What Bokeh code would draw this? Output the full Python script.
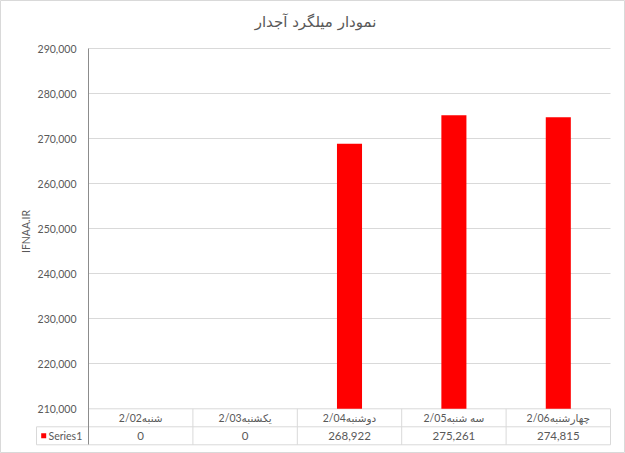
import math
from bokeh.plotting import figure
from bokeh.models import FixedTicker, NumeralTickFormatter, Label, ColumnDataSource
from bokeh.core.properties import value
from bokeh.embed import file_html
from bokeh.resources import INLINE

# ---------------- data ----------------
title_text = "نمودار میلگرد آجدار"
y_axis_title = "IFNAA.IR"
series_name = "Series1"
categories = ["2/02شنبه", "2/03یکشنبه", "2/04دوشنبه", "2/05سه شنبه", "2/06چهارشنبه"]
values = [0, 0, 268922, 275261, 274815]
y_ticks = [210000, 220000, 230000, 240000, 250000, 260000, 270000, 280000, 290000]

AXIS_MIN = y_ticks[0]
AXIS_MAX = y_ticks[-1]

# ---------------- layout helpers (page pixels -> data) ----------------
W, H = 625, 453
PX_PER_CAT = 104.4
PX_PER_Y = 4.5 / 1000.0
AXIS_X_PAGE = 88.0
AXIS_MIN_Y_PAGE = 408.3


def dx(px):
    return (px - AXIS_X_PAGE) / PX_PER_CAT


def dy(py):
    return AXIS_MIN + (AXIS_MIN_Y_PAGE - py) / PX_PER_Y


ROW_H = 4000  # table row height in y units (18 px)
n = len(categories)
table_left = dx(36)
table_bottom = AXIS_MIN - 2 * ROW_H

TEXT_COLOR = "#595959"
GRID_COLOR = "#d9d9d9"
FONT = "Lato, DejaVu Sans"

p = figure(width=W, height=H, title=None,
           x_range=(dx(0), dx(W)), y_range=(dy(H), dy(0)),
           output_backend="svg", toolbar_location=None,
           x_axis_type=None,
           min_border_left=0, min_border_right=0,
           min_border_top=0, min_border_bottom=0)
p.outline_line_color = "#d9d9d9"
p.background_fill_color = "white"
p.border_fill_color = "white"

# y axis drawn at category origin
yax = p.yaxis[0]
yax.fixed_location = 0
yax.ticker = FixedTicker(ticks=y_ticks)
yax.formatter = NumeralTickFormatter(format="0,0")
yax.bounds = (table_bottom, AXIS_MAX)
yax.major_tick_line_color = None
yax.minor_tick_line_color = None
yax.major_tick_out = 0
yax.major_tick_in = 0
yax.minor_tick_out = 0
yax.minor_tick_in = 0
yax.axis_line_color = "#8c8c8c"
yax.major_label_text_font = FONT
yax.major_label_text_font_size = "10.5px"
yax.major_label_text_color = TEXT_COLOR
yax.major_label_standoff = 12

# horizontal gridlines
grid = p.ygrid[0]
grid.ticker = FixedTicker(ticks=y_ticks[1:])
grid.grid_line_color = GRID_COLOR
if "cross_bounds" in grid.properties():
    grid.cross_bounds = (0, n)
else:
    grid.visible = False
    p.segment(x0=[0] * (len(y_ticks) - 1), x1=[n] * (len(y_ticks) - 1),
              y0=y_ticks[1:], y1=y_ticks[1:], line_color=GRID_COLOR, line_width=1)

# data table lines
hx0 = [0, table_left, table_left]
hx1 = [n, n, n]
hy = [AXIS_MIN, AXIS_MIN - ROW_H, table_bottom]
p.segment(x0=hx0, x1=hx1, y0=hy, y1=hy, line_color=GRID_COLOR, line_width=1)
vx = list(range(1, n + 1)) + [table_left]
vy0 = [AXIS_MIN] * n + [AXIS_MIN - ROW_H]
vy1 = [table_bottom] * (n + 1)
p.segment(x0=vx, x1=vx, y0=vy0, y1=vy1, line_color=GRID_COLOR, line_width=1)

# bars
src = ColumnDataSource(dict(
    x=[i + 0.5 for i in range(n)],
    top=[max(v, AXIS_MIN) for v in values],
    cat=categories,
    val=["{:,}".format(v) for v in values],
))
p.vbar(x="x", top="top", bottom=AXIS_MIN, width=0.24, source=src,
       fill_color="#ff0000", line_color=None)

# table texts
p.text(x="x", y=AXIS_MIN - ROW_H / 2, text="cat", source=src,
       text_font=value(FONT), text_font_size=value("10.5px"), text_color=TEXT_COLOR,
       text_align="center", text_baseline="middle")
p.text(x="x", y=AXIS_MIN - 1.5 * ROW_H, text="val", source=src,
       text_font=value(FONT), text_font_size=value("11.5px"), text_color=TEXT_COLOR,
       text_align="center", text_baseline="middle")

# legend key in table
p.scatter(x=[dx(43.2)], y=[AXIS_MIN - 1.5 * ROW_H], marker="square", size=5,
          fill_color="#ff0000", line_color=None)
p.text(x=[dx(48)], y=[AXIS_MIN - 1.5 * ROW_H], text=[series_name],
       text_font=value(FONT), text_font_size=value("10.5px"), text_color=TEXT_COLOR,
       text_align="left", text_baseline="middle")

# title and axis title
p.add_layout(Label(x=dx(315), y=dy(21), text=title_text, text_align="center",
                   text_baseline="middle", text_font="DejaVu Sans",
                   text_font_size="15px", text_color=TEXT_COLOR))
p.add_layout(Label(x=dx(25), y=dy(231), text=y_axis_title, angle=math.pi / 2,
                   text_align="center", text_baseline="middle", text_font=FONT,
                   text_font_size="10.5px", text_color=TEXT_COLOR))

open("out.html", "w").write(file_html(p, INLINE))
